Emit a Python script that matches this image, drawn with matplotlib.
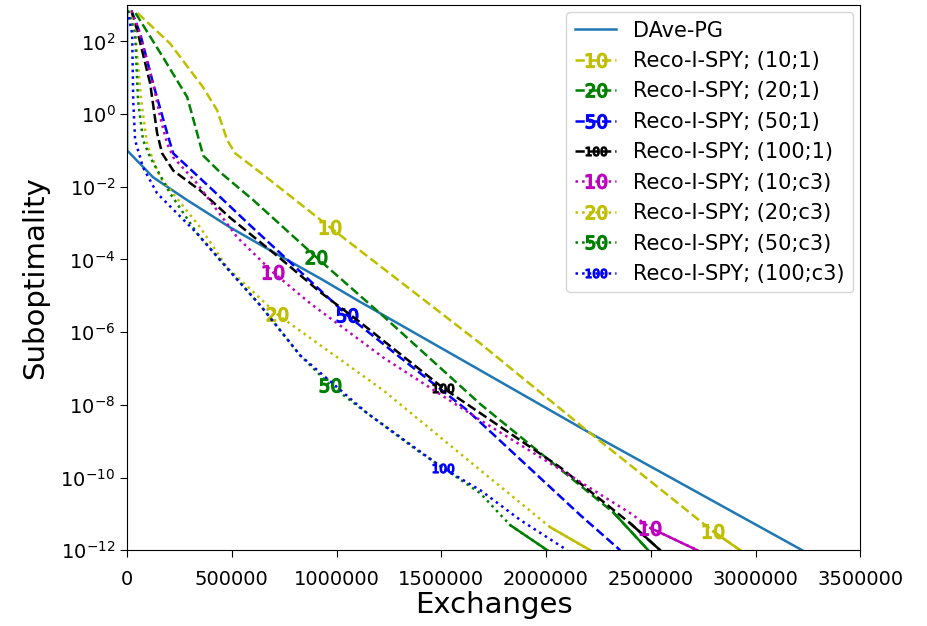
import matplotlib
matplotlib.use("Agg")
import matplotlib.pyplot as plt
from matplotlib.ticker import NullLocator, FixedLocator, LogFormatterSciNotation

# ---- data: exchanges vs. suboptimality -------------------------------------
dave_x = [0, 0, 124000, 287000, 492000, 683000, 922000, 1098000, 1686000,
          2211000, 3223000]
dave_y = [8e2, 1e-1, 1.82e-2, 4.27e-3, 7.6e-4, 1.78e-4, 3.0e-5, 7.6e-6,
          8.9e-8, 1.66e-9, 1e-12]

r10_1_x = [50000, 205000, 363000, 430000, 478000, 516000, 635000, 969000,
           1686000, 2211000, 2798000, 2927000]
r10_1_y = [6e2, 87, 5.4, 1.26, 0.19, 8.3e-2, 2.5e-2, 7.6e-4, 4.9e-7,
           1.66e-9, 3.3e-12, 1e-12]

r20_1_x = [40000, 172000, 287000, 334000, 363000, 444000, 602000, 903000,
           1223000, 1686000, 2321000, 2488000]
r20_1_y = [6e2, 36, 2.9, 0.30, 7.2e-2, 2.5e-2, 4.3e-3, 1.15e-4, 2.75e-6,
           1.05e-8, 1.1e-11, 1e-12]

r50_1_x = [20000, 62000, 124000, 191000, 220000, 396000, 587000, 764000,
           1051000, 1304000, 1624000, 2163000, 2354000]
r50_1_y = [7e2, 166, 6.9, 0.30, 8.3e-2, 9.5e-3, 8.7e-4, 1.0e-4, 2.9e-6,
           2.0e-7, 7.1e-9, 9.3e-12, 1e-12]

r100_1_x = [20000, 48000, 110000, 143000, 167000, 220000, 349000, 492000,
            731000, 922000, 1113000, 1509000, 1686000, 2068000, 2402000,
            2545000]
r100_1_y = [7e2, 200, 6.9, 0.30, 8.3e-2, 2.8e-2, 7.9e-3, 1.4e-3, 1.07e-4,
            1.26e-5, 1.86e-6, 2.9e-8, 5.9e-9, 1.9e-10, 5.5e-12, 1e-12]

r10_c3_x = [20000, 52000, 124000, 158000, 191000, 220000, 334000, 525000,
            697000, 874000, 1223000, 1686000, 2130000, 2402000, 2498000,
            2722000]
r10_c3_y = [7e2, 240, 6.9, 0.81, 0.155, 6.5e-2, 1.23e-2, 4.1e-4, 4.4e-5,
            6.2e-6, 2.0e-7, 3.8e-9, 1.0e-10, 1.05e-11, 4.1e-12, 1e-12]

r20_c3_x = [10000, 38000, 67000, 96000, 158000, 349000, 478000, 716000,
            1223000, 1686000, 2020000, 2211000]
r20_c3_y = [7e2, 200, 2.4, 0.138, 1.8e-2, 7.6e-4, 6.0e-5, 3.1e-6, 2.5e-8,
            1.6e-10, 4.3e-12, 1e-12]

r50_c3_x = [5000, 38000, 52000, 76000, 110000, 205000, 334000, 478000,
            635000, 826000, 969000, 1146000, 1385000, 1686000, 1829000,
            2006000]
r50_c3_y = [7e2, 166, 2.4, 0.19, 6.5e-2, 6.6e-3, 5.2e-4, 5.7e-5, 5.5e-6,
            2.3e-7, 3.5e-8, 5.9e-9, 5.6e-10, 3.7e-11, 4.9e-12, 1e-12]

r100_c3_x = [0, 24000, 29000, 38000, 76000, 143000, 334000, 478000, 635000,
             826000, 1146000, 1509000, 1686000, 1877000, 2101000]
r100_c3_y = [7e2, 166, 2.4, 0.19, 3.4e-2, 6.6e-3, 5.2e-4, 5.7e-5, 5.5e-6,
             2.3e-7, 5.9e-9, 1.8e-10, 4.5e-11, 6.8e-12, 1e-12]

y_ticks = [1e-12, 1e-10, 1e-8, 1e-6, 1e-4, 1e-2, 1e0, 1e2]
x_ticks = [0, 500000, 1000000, 1500000, 2000000, 2500000, 3000000, 3500000]

# ---- series styling --------------------------------------------------------
series = [
    # x, y, label, colour, linestyle, marker text, marker indices, solid tail
    (r10_1_x, r10_1_y, "Reco-I-SPY; (10;1)", "y", "--", "$10$", [7, 10], True),
    (r20_1_x, r20_1_y, "Reco-I-SPY; (20;1)", "g", "--", "$20$", [7], True),
    (r50_1_x, r50_1_y, "Reco-I-SPY; (50;1)", "b", "--", "$50$", [8], False),
    (r100_1_x, r100_1_y, "Reco-I-SPY; (100;1)", "k", "--", "$100$", [11], True),
    (r10_c3_x, r10_c3_y, "Reco-I-SPY; (10;c3)", "m", ":", "$10$", [8, 14], True),
    (r20_c3_x, r20_c3_y, "Reco-I-SPY; (20;c3)", "y", ":", "$20$", [7], True),
    (r50_c3_x, r50_c3_y, "Reco-I-SPY; (50;c3)", "g", ":", "$50$", [10], True),
    (r100_c3_x, r100_c3_y, "Reco-I-SPY; (100;c3)", "b", ":", "$100$", [11], False),
]

LW = 1.8

fig = plt.figure(figsize=(9.28, 6.26), dpi=100)
ax = fig.add_axes([0.137, 0.121, 0.790, 0.871])

ax.plot(dave_x, dave_y, color="tab:blue", lw=LW, label="DAve-PG")

for x, y, label, col, ls, mk, idx, tail in series:
    ax.plot(x, y, color=col, ls=ls, lw=LW, marker=mk, markersize=15,
            markevery=idx, label=label)
    if tail:
        ax.plot(x[-2:], y[-2:], color=col, ls="-", lw=LW)

ax.set_yscale("log")
ax.set_xlim(0, 3500000)
ax.set_ylim(1e-12, 1e3)
ax.yaxis.set_major_locator(FixedLocator(y_ticks))
ax.yaxis.set_major_formatter(LogFormatterSciNotation())
ax.yaxis.set_minor_locator(NullLocator())
ax.set_xticks(x_ticks)
ax.ticklabel_format(axis="x", style="plain")
ax.tick_params(labelsize=14, length=5)
ax.tick_params(axis="x", pad=9)

ax.set_xlabel("Exchanges", fontsize=21, labelpad=2)
ax.set_ylabel("Suboptimality", fontsize=21, labelpad=8)

ax.legend(loc="upper right", fontsize=15, borderaxespad=0.35)

fig.savefig("out.png", dpi=100)
